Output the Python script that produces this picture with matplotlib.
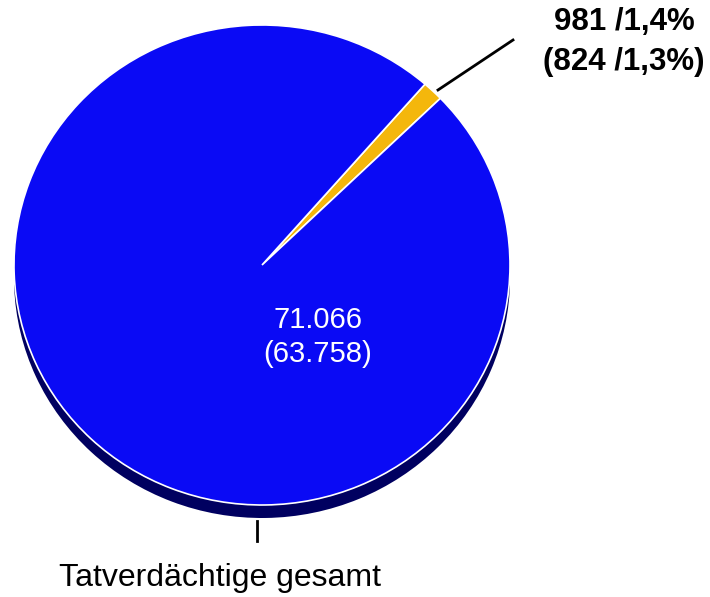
import matplotlib.pyplot as plt

plt.rcParams['font.family'] = ['Liberation Sans', 'DejaVu Sans']

# Tatverdächtige: Anteil und Gesamt (Vorjahr in Klammern)
werte = [981, 71066]
werte_vorjahr = [824, 63758]
anteil = ['1,4%', '1,3%']
farben = ['#f4b70c', '#0a0af5']
schatten = ['#000060', '#000060']
gesamt_label = 'Tatverdächtige gesamt'

# Pixelmaße der Ellipse (Bild 710x597)
cx, cy, rx, ry = 262, 265, 248, 240
tiefe = 13


def px(x, y):
    return (x - cx) / rx, (cy - y) / ry


fig = plt.figure(figsize=(7.1, 5.97), dpi=100)
ax = fig.add_axes([0, 0, 1, 1])

start = 48.9
# Schatten (3D-Rand)
ax.pie(werte, colors=schatten, startangle=start, counterclock=False,
       center=(0, -tiefe / ry), radius=1.0,
       wedgeprops=dict(linewidth=0, zorder=1))
# Oberseite
ax.pie(werte, colors=farben, startangle=start, counterclock=False,
       center=(0, 0), radius=1.0,
       wedgeprops=dict(edgecolor='white', linewidth=1.2, zorder=2))

ax.set_aspect('auto')
ax.set_xlim(-cx / rx, (710 - cx) / rx)
ax.set_ylim(-(597 - cy) / ry, cy / ry)
ax.axis('off')

# Beschriftung kleines Segment
ax.plot(*zip(px(438, 90), px(513, 40)), color='black', lw=2, zorder=3)
ax.text(*px(624, 42),
        f'{werte[0]} /{anteil[0]}\n({werte_vorjahr[0]} /{anteil[1]})',
        ha='center', va='center', fontsize=22.5, fontweight='bold',
        linespacing=1.4)

# Werte im großen Segment
ax.text(*px(318, 337),
        f'{werte[1]:,}\n({werte_vorjahr[1]:,})'.replace(',', '.'),
        ha='center', va='center', fontsize=21, color='white',
        linespacing=1.25, zorder=4)

# Beschriftung gesamt
ax.plot(*zip(px(257, 521), px(257, 541)), color='black', lw=2, zorder=3)
ax.text(*px(220, 578), gesamt_label, ha='center', va='center', fontsize=23)

fig.savefig('out.png', dpi=100)
